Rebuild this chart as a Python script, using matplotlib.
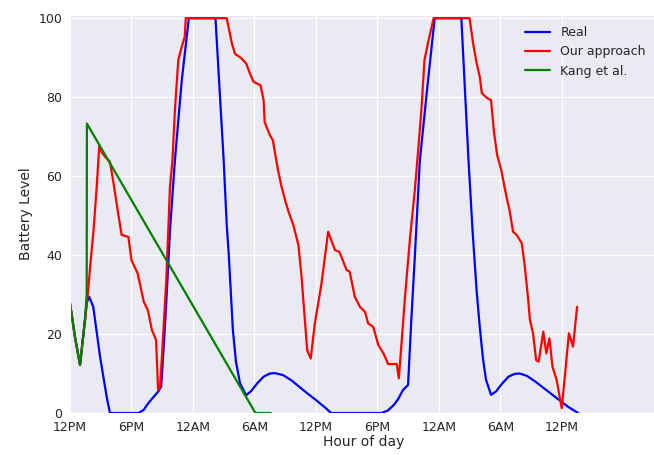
import matplotlib
matplotlib.use("Agg")
import matplotlib.pyplot as plt
import seaborn as sns

################################################################################
# data (hours since 12PM, battery level)
real_t = [0, 0.5, 0.98, 1.46, 1.63, 1.88, 2.27, 2.93, 3.58, 3.9, 6.7, 7.2, 7.5, 8.0,
          8.6, 8.9, 9.2, 9.5, 9.76, 10.24, 10.9, 11.6, 14.2, 15.0, 15.3, 15.5, 15.9,
          16.2, 16.6, 17.2, 17.7, 18.3, 18.9, 19.5, 20.0, 20.8, 21.6, 22.4, 23.2,
          24.0, 24.8, 25.5, 30.4, 31.0, 31.6, 32.0, 32.5, 33.0, 33.3, 33.66, 34.0,
          34.15, 34.9, 35.6, 38.2, 38.9, 39.3, 39.7, 40.0, 40.3, 40.6, 41.1, 41.6,
          42.2, 42.8, 43.4, 43.9, 44.6, 45.4, 46.2, 47.0, 47.8, 48.6, 49.6]
real_v = [27.8, 19, 12.2, 23.5, 28, 29.4, 26.9, 14.3, 4.1, 0, 0, 0.8, 2.0, 3.6,
          5.4, 6.7, 19, 33, 46.3, 64, 84, 100, 100, 64, 47.6, 40, 21,
          13, 7.5, 4.5, 5.6, 7.6, 9.2, 10, 10.1, 9.6, 8.3, 6.6, 4.9,
          3.3, 1.6, 0, 0, 0.6, 2.0, 3.4, 5.8, 7.1, 22.7, 39.6, 56.5,
          64, 83, 100, 100, 64, 46, 30.7, 21.8, 14, 8.5, 4.6, 5.5,
          7.5, 9.2, 9.9, 10, 9.4, 8, 6.4, 4.8, 3.2, 1.6, 0]

ours_t = [0, 0.5, 0.98, 1.46, 1.7, 2.0, 2.3, 2.6, 2.86, 3.1, 3.4, 3.9, 4.2, 4.5,
          4.7, 5.04, 5.7, 6.0, 6.6, 7.2, 7.6, 8.0, 8.4, 8.6, 8.8, 9.1, 9.4, 9.76,
          10.0, 10.24, 10.57, 10.9, 11.2, 11.3, 15.3, 15.8, 16.1, 16.75, 17.2,
          17.56, 17.9, 18.6, 18.9, 19.0, 19.5, 19.8, 20.3, 20.65, 21.0, 21.3, 21.8,
          22.3, 22.6, 22.9, 23.15, 23.5, 23.9, 24.55, 25.2, 25.5, 25.85, 26.3, 27.0,
          27.3, 27.8, 28.3, 28.8, 29.1, 29.6, 30.1, 30.6, 31.05, 31.9, 32.1, 32.36,
          32.7, 33.2, 33.66, 34.0, 34.3, 34.6, 35.0, 35.5, 39.0, 39.35, 39.7, 40.0,
          40.2, 40.65, 41.1, 41.4, 41.7, 42.1, 42.6, 42.9, 43.25, 43.6, 44.1, 44.4,
          44.7, 44.9, 45.2, 45.5, 45.75, 46.2, 46.5, 46.8, 47.1, 47.5, 48.0, 48.3,
          48.7, 49.1, 49.5]
ours_v = [27.8, 19, 12.2, 23.5, 29, 38, 46.3, 57, 67.8, 66, 65, 63.6, 59, 54,
          50.5, 45.1, 44.6, 38.7, 35.4, 28.2, 26, 21, 18.5, 5.8, 6.7, 20, 33.7, 57.3,
          64, 76.7, 89.4, 92.7, 95.3, 100, 100, 93.6, 91, 89.8, 88.5,
          86, 83.9, 83, 79.2, 73.7, 70.4, 69.1, 61.5, 57.3, 53.9, 51.2, 47.6,
          42.5, 34.5, 24.4, 15.9, 13.8, 22.7, 32.8, 45.9, 43.8, 41.3, 40.8, 36.2,
          35.8, 29.4, 26.9, 25.6, 22.7, 21.8, 17.2, 15.1, 12.4, 12.4, 8.8, 17.6,
          29.4, 44.6, 56.5, 67, 76.7, 89.4, 94.4, 100, 100, 93.6, 88.5, 85.1,
          81, 79.9, 79.2, 70.8, 65.3, 61.5, 54.8, 51.4, 45.9, 45.1, 43, 37,
          29.4, 23.5, 20.2, 13.4, 13, 20.6, 15.1, 18.9, 11.7, 8.4, 1.2, 9.2,
          20.2, 16.8, 26.9]

kang_t = [0, 0.5, 0.98, 1.46, 1.63, 1.65, 18.1, 19.6]
kang_v = [27.8, 19, 12.2, 23.5, 30, 73.3, 0, 0]

tick_hours = [0, 6, 12, 18, 24, 30, 36, 42, 48]
tick_labels = ["12PM", "6PM", "12AM", "6AM", "12PM", "6PM", "12AM", "6AM", "12PM"]

################################################################################
# plot
sns.set_style("darkgrid")

fig = plt.figure(figsize=(6.54, 4.55), dpi=100)
ax = fig.add_axes([70 / 654, 42 / 455, 587 / 654, 398 / 455])

ax.plot(real_t, real_v, color="blue", lw=1.6, label="Real")
ax.plot(ours_t, ours_v, color="red", lw=1.6, label="Our approach")
ax.plot(kang_t, kang_v, color="green", lw=1.6, label="Kang et al.")

ax.set_xlim(0, 57.3)
ax.set_ylim(0, 100.8)
ax.set_xticks(tick_hours)
ax.set_xticklabels(tick_labels)
ax.set_yticks([0, 20, 40, 60, 80, 100])
ax.tick_params(labelsize=9, colors=".15", pad=2)
ax.set_xlabel("Hour of day", fontsize=10, color=".15", labelpad=1)
ax.set_ylabel("Battery Level", fontsize=10, color=".15")
ax.legend(loc="upper right", fontsize=9, frameon=False)

plt.savefig("out.png", dpi=100)
